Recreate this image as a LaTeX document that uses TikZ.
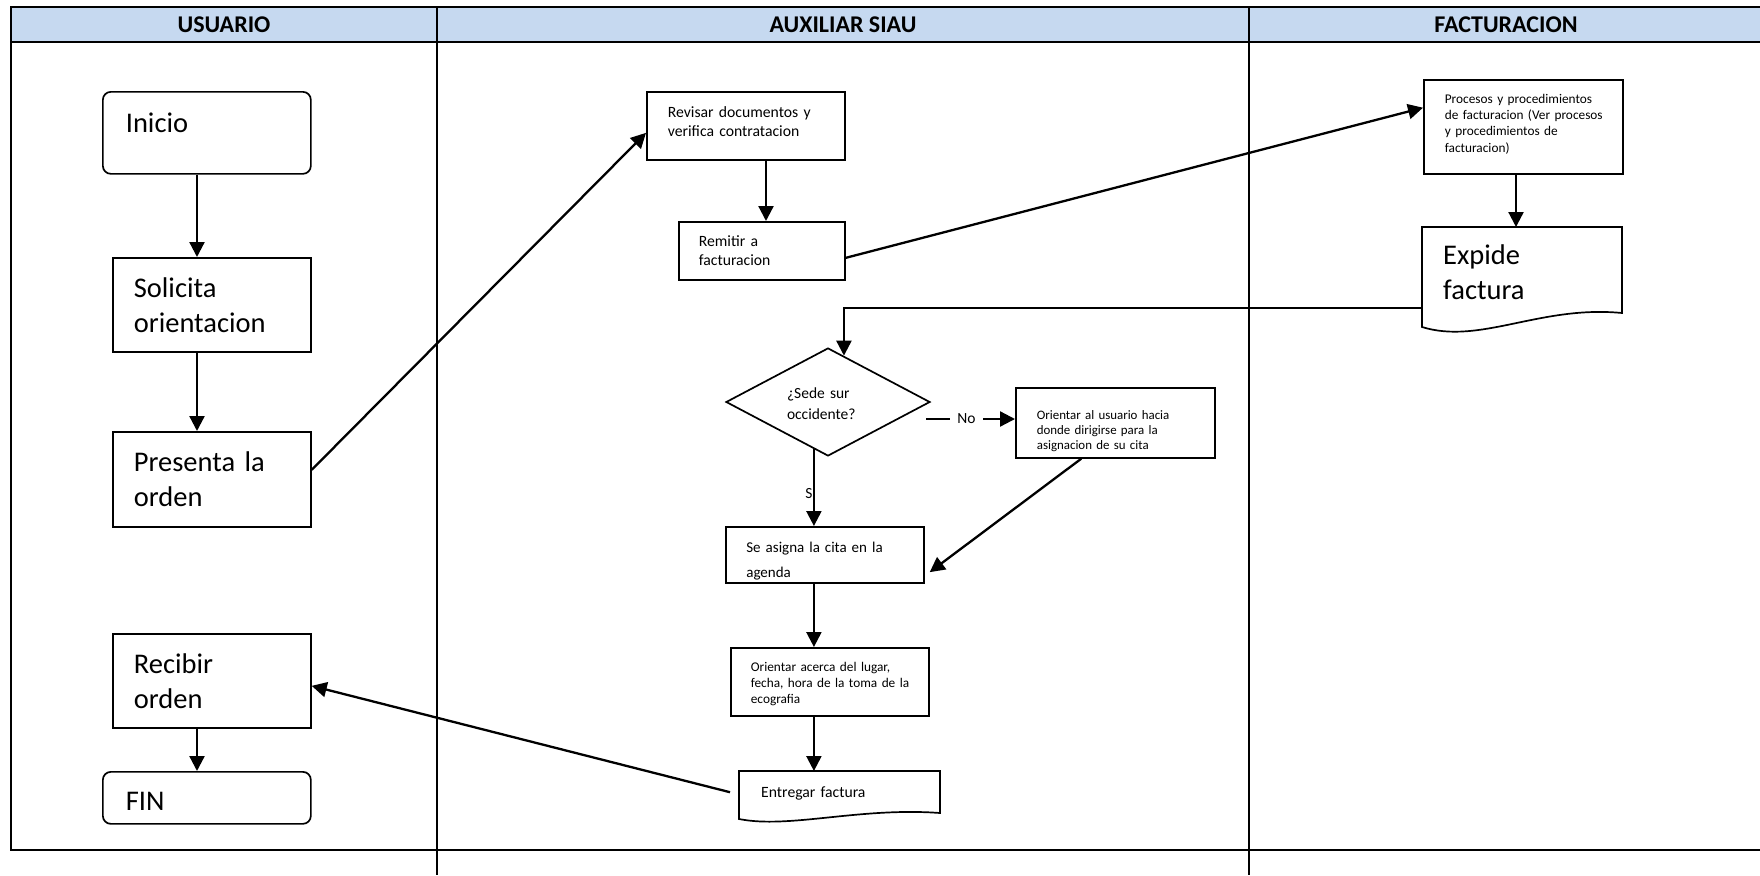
\documentclass[tikz,border=0pt]{standalone}
\usepackage{fontspec}
\setmainfont{Carlito}
\usetikzlibrary{shapes.geometric,arrows.meta,calc}
\definecolor{hdrblue}{HTML}{C6D9F0}
\begin{document}
\begin{tikzpicture}[x=1pt,y=-1pt,
  tline/.style={line width=2.6pt},
  procbox/.style={draw,line width=1.7pt,anchor=north west,inner xsep=3pt,inner ysep=0pt,align=left},
  docnode/.style={anchor=north west,inner xsep=3pt,inner ysep=0pt,align=left},
  lpad/.style={execute at begin node={\leftskip=#1\relax}},
  bline/.style={line width=1.7pt},
  big/.style={font=\fontsize{28.5}{35}\selectfont},
  mid/.style={font=\fontsize{15.7}{19}\selectfont},
  sml/.style={font=\fontsize{13.3}{16.3}\selectfont},
  arr/.style={line width=2.3pt,-{Triangle[length=15pt,width=15pt]}},
  conn/.style={line width=2.3pt},
  hdrtxt/.style={font=\fontsize{24}{28}\selectfont\bfseries}
]
\useasboundingbox (0,0) rectangle (1760,875);
% table
\fill[hdrblue] (11,7) rectangle (1760,42);
\draw[tline] (1760,7) -- (11,7) -- (11,850) -- (1760,850);
\draw[tline] (11,42) -- (1760,42);
\draw[tline] (437,7) -- (437,875);
\draw[tline] (1249,7) -- (1249,875);
\node[hdrtxt] (h1) at (224,24.5) {USUARIO};
\node[hdrtxt] (h2) at (843,24.5) {AUXILIAR SIAU};
\node[hdrtxt] (h3) at (1506,24.5) {FACTURACION};
% usuario lane
\node[procbox,big,rounded corners=8pt,minimum width=208pt,minimum height=82pt,text width=202pt,lpad=20pt,text height=20pt,text depth=20pt] (ini) at (102,91) {Inicio};
\node[procbox,big,minimum width=198pt,minimum height=94pt,text width=192pt,lpad=18pt] (sol) at (112,257) {Solicita\\orientacion};
\node[procbox,big,minimum width=198pt,minimum height=95pt,text width=192pt,lpad=18pt] (pre) at (112,431) {Presenta la\\orden};
\node[procbox,big,minimum width=198pt,minimum height=94pt,text width=192pt,lpad=18pt] (rec) at (112,633) {Recibir\\orden};
\node[procbox,big,rounded corners=8pt,minimum width=208pt,minimum height=52pt,text width=202pt,lpad=20pt,text height=26pt] (fin) at (102,771) {FIN};
% auxiliar lane
\node[procbox,mid,minimum width=198pt,minimum height=68pt,text width=192pt,lpad=18pt,text height=11.5pt,text depth=27.5pt] (rev) at (646,91) {Revisar documentos y\\verifica contratacion};
\node[procbox,mid,minimum width=166pt,minimum height=58pt,text width=160pt,lpad=17pt] (rem) at (678,221) {Remitir a\\facturacion};
\node[diamond,draw,line width=1.7pt,aspect=2,minimum width=204pt,minimum height=108pt,inner sep=0pt,align=left,text width=82pt,text height=14pt,font=\fontsize{15.5}{21}\selectfont] (dia) at (828,402) {¿Sede sur\\occidente?};
\node[procbox,font=\fontsize{12.9}{15}\selectfont,minimum width=199pt,minimum height=70pt,text width=193pt,lpad=18pt,text height=25pt] (ous) at (1015,387) {Orientar al usuario hacia\\donde dirigirse para la\\asignacion de su cita};
\node[procbox,font=\fontsize{15}{25}\selectfont,minimum width=198pt,minimum height=56pt,text width=192pt,lpad=17.5pt,text height=23.5pt] (sea) at (725,526) {Se asigna la cita en la\\agenda};
\node[procbox,font=\fontsize{13.3}{16}\selectfont,minimum width=198pt,minimum height=68pt,text width=192pt,lpad=17pt,text height=14pt] (oa) at (730,647) {Orientar acerca del lugar,\\fecha, hora de la toma de la\\ecografia};
\node[docnode,mid,minimum width=201pt,minimum height=44pt,text width=195pt,lpad=19pt] (ent) at (739,771) {Entregar factura};
\begin{scope}[shift={(ent.north west)}]
\draw[bline,line join=miter] (0,48) -- (0,0) -- (201,0) -- (201,42) .. controls (120,36) and (50,58) .. (0,48) -- cycle;
\end{scope}
\node[font=\fontsize{15.5}{18}\selectfont,inner xsep=7.5pt,inner ysep=1pt] (no) at (966.5,419) {No};
\node[font=\fontsize{15.5}{18}\selectfont,inner sep=0pt] (si) at (809,494) {S};
% facturacion lane
\node[procbox,sml,minimum width=199pt,minimum height=94pt,text width=193pt,lpad=18pt,text height=9.5pt,text depth=57pt] (pro) at (1423,79) {Procesos y procedimientos\\de facturacion (Ver procesos\\y procedimientos de\\facturacion)};
\node[docnode,big,minimum width=200pt,minimum height=91pt,text width=194pt,lpad=18pt] (exp) at (1422,227) {Expide\\factura};
\begin{scope}[shift={(exp.north west)}]
\draw[bline,line join=miter] (0,100) -- (0,0) -- (200,0) -- (200,86) .. controls (118,78) and (58,118) .. (0,100) -- cycle;
\end{scope}
% connectors
\coordinate (colx) at (197,0);
\draw[arr] (colx |- ini.south) -- (colx |- sol.north);
\draw[arr] (colx |- sol.south) -- (colx |- pre.north);
\draw[arr] (colx |- rec.south) -- (colx |- fin.north);
\draw[arr] ($(pre.east)+(0,-9.5)$) -- ($(rev.west)+(0,7)$);
\coordinate (revx) at (766,0);
\draw[arr] (revx |- rev.south) -- (revx |- rem.north);
\draw[arr] ($(rem.east)+(0,7)$) -- ($(pro.north west)!0.3!(pro.south west)$);
\coordinate (prox) at (1516,0);
\draw[arr] (prox |- pro.south) -- (prox |- exp.north);
\coordinate (expout) at ($(exp.north west)+(0,81)$);
\coordinate (dtop) at ($(dia.north)!0.155!(dia.east)$);
\draw[arr] (expout) -| (dtop);
\coordinate (dout) at ($(dia.south)!0.137!(dia.west)$);
\draw[arr] (dout) -- (dout |- sea.north);
\coordinate (nostart) at (926,419);
\draw[conn] (nostart) -- (no.west);
\draw[arr] (no.east) -- (no.east -| ous.west);
\draw[arr] ($(ous.south west)!0.33!(ous.south east)$) -- ($(sea.north east)!0.8!(sea.south east)+(5,0)$);
\draw[arr] (dout |- sea.south) -- (dout |- oa.north);
\draw[arr] (dout |- oa.south) -- (dout |- ent.north);
\draw[arr] ($(ent.west)+(-9,-1)$) -- ($(rec.east)+(0,5)$);
\end{tikzpicture}
\end{document}
